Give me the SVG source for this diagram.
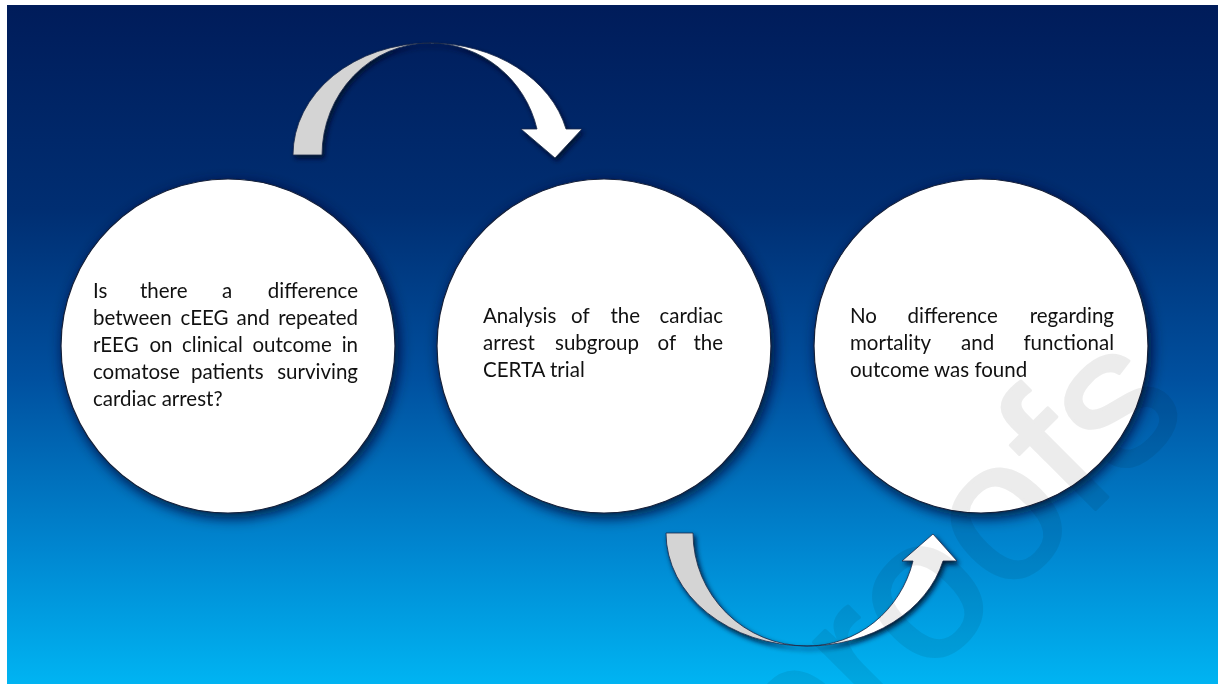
<svg xmlns="http://www.w3.org/2000/svg" width="1218" height="684" viewBox="0 0 1218 684">
<defs>
<linearGradient id="bg" x1="0" y1="0" x2="0" y2="1">
<stop offset="0" stop-color="#001c5a"/>
<stop offset="0.3" stop-color="#002e72"/>
<stop offset="0.55" stop-color="#00509f"/>
<stop offset="0.8" stop-color="#0086d0"/>
<stop offset="1" stop-color="#00b4f2"/>
</linearGradient>
<filter id="cshadow" x="-20%" y="-20%" width="140%" height="140%">
<feDropShadow dx="3" dy="4" stdDeviation="7" flood-color="#000f33" flood-opacity="0.95"/>
</filter>
<filter id="ashadow" x="-20%" y="-20%" width="140%" height="140%">
<feDropShadow dx="2" dy="3" stdDeviation="2.5" flood-color="#000a28" flood-opacity="0.9"/>
</filter>
<style>
.node circle{fill:#ffffff;stroke:#15203a;stroke-width:1.2;filter:url(#cshadow)}
.lbl{font-family:Lato,"Open Sans","Liberation Sans",sans-serif;font-size:20.5px;fill:#111111}
.back{fill:#d4d4d4;stroke:#1a2a4a;stroke-width:0.8}
.front{fill:#ffffff;stroke:#1a2a4a;stroke-width:0.8}
.wm{font-family:"Liberation Sans",sans-serif;font-size:200px;fill:#e2e2e2;stroke:#e2e2e2;stroke-width:3;stroke-linejoin:round;mix-blend-mode:multiply;opacity:0.65}
</style>
</defs>
<rect x="0" y="0" width="1218" height="684" fill="#ffffff"/>
<rect x="7" y="5" width="1211" height="679" fill="url(#bg)"/>

<g id="connectors">
<g id="arrow-top" filter="url(#ashadow)">
<path class="back" d="M293,155 A137,112 0 0 1 430,43 A108,112 0 0 0 322,155 Z"/>
<path class="front" d="M430,43 A140,112 0 0 1 566,129 L582,129 L555,158 L521,129 L537,129 A110,112 0 0 0 430,43 Z"/>
</g>
<g id="arrow-bottom" filter="url(#ashadow)">
<path class="back" d="M666,533 A141,113 0 0 0 807,646 A114,113 0 0 1 693,533 Z"/>
<path class="front" d="M807,646 A140,113 0 0 0 943,561 L957,561 L933,534 L902,561 L913,561 A109,113 0 0 1 807,646 Z"/>
</g>
</g>

<g id="node1" class="node">
<circle cx="228" cy="346" r="167"/>
<text class="lbl">
<tspan x="93" y="298">Is</tspan><tspan x="140" y="298">there</tspan><tspan x="222" y="298">a</tspan><tspan x="358" y="298" text-anchor="end">difference</tspan>
</text>
<text class="lbl">
<tspan x="93" y="325">between</tspan><tspan x="180.5" y="325">cEEG</tspan><tspan x="236.5" y="325">and</tspan><tspan x="358" y="325" text-anchor="end">repeated</tspan>
</text>
<text class="lbl">
<tspan x="93" y="352">rEEG</tspan><tspan x="149.5" y="352">on</tspan><tspan x="182" y="352">clinical</tspan><tspan x="252.5" y="352">outcome</tspan><tspan x="358" y="352" text-anchor="end">in</tspan>
</text>
<text class="lbl">
<tspan x="93" y="379">comatose</tspan><tspan x="191" y="379">patients</tspan><tspan x="358" y="379" text-anchor="end">surviving</tspan>
</text>
<text class="lbl" x="93" y="406">cardiac arrest?</text>
</g>

<g id="node2" class="node">
<circle cx="604" cy="346" r="167"/>
<text class="lbl">
<tspan x="483" y="323">Analysis</tspan><tspan x="571" y="323">of</tspan><tspan x="610.5" y="323">the</tspan><tspan x="723" y="323" text-anchor="end">cardiac</tspan>
</text>
<text class="lbl">
<tspan x="483" y="350">arrest</tspan><tspan x="555" y="350">subgroup</tspan><tspan x="657.5" y="350">of</tspan><tspan x="723" y="350" text-anchor="end">the</tspan>
</text>
<text class="lbl" x="483" y="377">CERTA trial</text>
</g>

<g id="node3" class="node">
<circle cx="981" cy="346" r="167"/>
<text class="lbl">
<tspan x="850" y="323">No</tspan><tspan x="907.5" y="323">difference</tspan><tspan x="1114" y="323" text-anchor="end">regarding</tspan>
</text>
<text class="lbl">
<tspan x="850" y="350">mortality</tspan><tspan x="961" y="350">and</tspan><tspan x="1114" y="350" text-anchor="end">functional</tspan>
</text>
<text class="lbl" x="850" y="377">outcome was found</text>
</g>

<text class="wm" transform="translate(800,805) rotate(-45)">proofs</text>
</svg>
